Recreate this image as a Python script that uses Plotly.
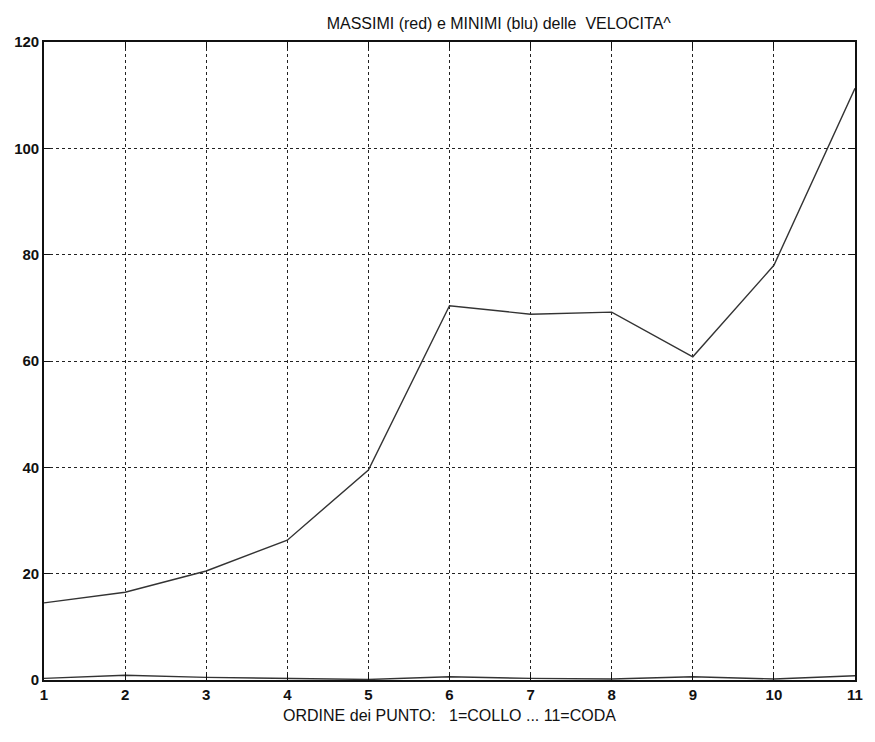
import plotly.graph_objects as go

# Point order along the body (1 = neck ... 11 = tail)
punti = list(range(1, 12))

# Maximum and minimum velocities at each point
massimi = [14.5, 16.5, 20.5, 26.3, 39.5, 70.4, 68.8, 69.2, 60.8, 78.0, 111.3]
minimi = [0.3, 0.9, 0.5, 0.3, 0.1, 0.6, 0.3, 0.2, 0.6, 0.2, 0.8]

x_ticks = list(range(1, 12))
y_ticks = [0, 20, 40, 60, 80, 100, 120]

fig = go.Figure()

fig.add_trace(go.Scatter(
    x=punti, y=massimi, mode="lines", name="massimi",
    line=dict(color="#333333", width=1.4),
))
fig.add_trace(go.Scatter(
    x=punti, y=minimi, mode="lines", name="minimi",
    line=dict(color="#333333", width=1.4),
))

tick_font = dict(family="Liberation Sans, Arial, sans-serif", size=15,
                 color="#111111", weight="bold")
text_font = dict(family="Liberation Sans, Arial, sans-serif", size=16, color="#111111")

fig.update_layout(
    width=875, height=742,
    margin=dict(l=44, r=14, t=42, b=62),
    paper_bgcolor="white",
    plot_bgcolor="white",
    showlegend=False,
    title=dict(
        text="MASSIMI (red) e MINIMI (blu) delle  VELOCITA^",
        x=0.57, xanchor="center", y=0.968, yanchor="middle",
        font=text_font,
    ),
    xaxis=dict(
        range=[1, 11],
        tickmode="array", tickvals=x_ticks,
        ticks="inside", ticklen=6, tickcolor="#111111",
        showline=True, linecolor="#111111", linewidth=1.6, mirror="ticks",
        showgrid=True, gridcolor="#222222", griddash="dot", gridwidth=1,
        zeroline=False,
        tickfont=tick_font,
        title=dict(text="ORDINE dei PUNTO:   1=COLLO ... 11=CODA",
                   font=text_font, standoff=8),
    ),
    yaxis=dict(
        range=[0, 120],
        tickmode="array", tickvals=y_ticks,
        ticks="inside", ticklen=6, tickcolor="#111111",
        showline=True, linecolor="#111111", linewidth=1.6, mirror="ticks",
        showgrid=True, gridcolor="#222222", griddash="dot", gridwidth=1,
        zeroline=False,
        tickfont=tick_font,
    ),
)

fig.write_html("out.html")
